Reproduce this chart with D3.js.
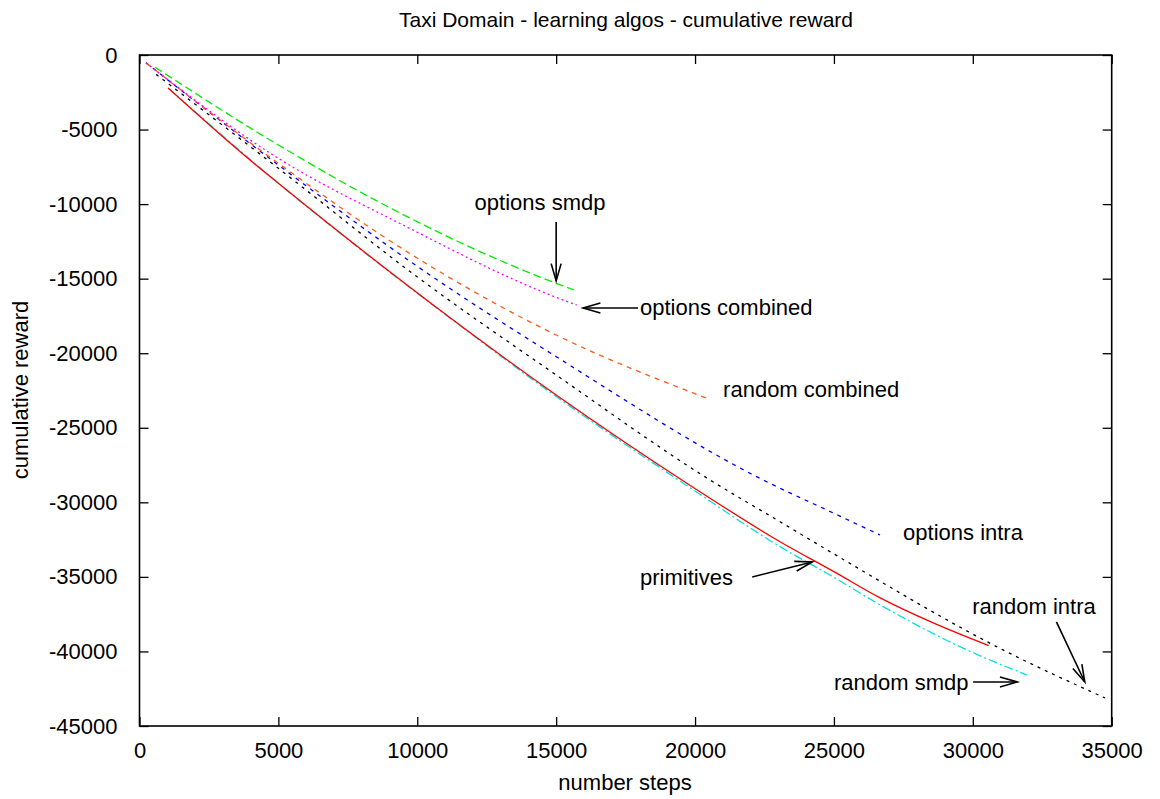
<!DOCTYPE html>
<html>
<head>
<meta charset="utf-8">
<script src="https://cdn.jsdelivr.net/npm/d3@7"></script>
<style>
  html, body { margin: 0; padding: 0; background: #fff; }
  svg { display: block; font-family: "Liberation Sans", Arial, Helvetica, sans-serif; }
</style>
</head>
<body>
<svg id="chart" width="1160" height="799"></svg>
<script>
// ---------- data ----------
const title = "Taxi Domain - learning algos - cumulative reward";
const xLabel = "number steps";
const yLabel = "cumulative reward";
const xTicks = [0, 5000, 10000, 15000, 20000, 25000, 30000, 35000];
const yTicks = [0, -5000, -10000, -15000, -20000, -25000, -30000, -35000, -40000, -45000];

const optionsSmdpX = [560, 5000, 9380, 14420, 15000, 15650];
const optionsSmdpY = [-820, -6035, -10600, -14890, -15310, -15760];

const optionsCombinedX = [230, 5000, 9380, 15000, 15740];
const optionsCombinedY = [-520, -6930, -11300, -16250, -16765];

const randomCombinedX = [250, 5000, 9980, 15000, 20425];
const randomCombinedY = [-550, -7265, -13600, -18777, -23020];

const optionsIntraX = [230, 5000, 9980, 15000, 22450, 25000, 26660];
const optionsIntraY = [-520, -7377, -14150, -20230, -28500, -30735, -32190];

const randomIntraX = [600, 5000, 9980, 15000, 20540, 23060, 25000, 31090, 34760];
const randomIntraY = [-1300, -7600, -14860, -21460, -28500, -31300, -33460, -39900, -43120];

const primitivesX = [1030, 3978, 5000, 11290, 15000, 19525, 23060, 25000, 26665, 28575, 30570];
const primitivesY = [-2210, -7040, -8600, -17770, -22800, -28500, -32640, -34650, -36410, -38090, -39610];

const randomSmdpX = [1030, 5000, 11290, 15000, 19525, 23060, 25000, 26665, 29790, 31950];
const randomSmdpY = [-2210, -8600, -17800, -22900, -28650, -32970, -35030, -36880, -39900, -41580];

// annotation labels (data coordinates) and arrows [x1, y1, x2, y2]
const labelTexts = ["options smdp", "options combined", "random combined", "options intra", "primitives", "random intra", "random smdp"];
const labelX = [14420, 18020, 21010, 27490, 18020, 29980, 25000];
const labelY = [-10394, -17436, -22934, -32524, -35540, -37486, -42583];
const labelAnchor = ["middle", "start", "start", "start", "start", "start", "start"];
const arrows = [
  [15000, -11200, 15000, -15150],
  [17950, -16966, 15970, -16966],
  [22060, -35005, 24220, -34000],
  [33010, -38022, 34030, -42047],
  [30010, -42047, 31600, -42047]
];

// ---------- layout ----------
const svg = d3.select("#chart");
const pL = 139.5, pR = 1111.7, pT = 55, pB = 726;
const x = d3.scaleLinear().domain([0, 35000]).range([pL, pR]);
const y = d3.scaleLinear().domain([-45000, 0]).range([pB, pT]);
const fontSize = 22;

// title
svg.append("text").attr("x", 626).attr("y", 27).attr("text-anchor", "middle")
  .attr("font-size", 21).text(title);

// axes (ticks inward on all sides)
const tickLen = 9;
const axG = svg.append("g");
const xAxisB = d3.axisBottom(x).tickValues(xTicks).tickSize(-tickLen).tickPadding(16).tickFormat(d3.format("d"));
const xAxisT = d3.axisTop(x).tickValues(xTicks).tickSize(-tickLen).tickFormat("");
const yAxisL = d3.axisLeft(y).tickValues(yTicks).tickSize(-tickLen).tickPadding(22).tickFormat(d => d === 0 ? "0" : "-" + Math.abs(d));
const yAxisR = d3.axisRight(y).tickValues(yTicks).tickSize(-tickLen).tickFormat("");

function styleAxis(g) {
  g.select(".domain").remove();
  g.selectAll(".tick line").attr("stroke", "#000").attr("stroke-width", 1.3);
  g.selectAll(".tick text").attr("font-size", fontSize).attr("fill", "#000")
    .attr("font-family", '"Liberation Sans", Arial, sans-serif');
}
axG.append("g").attr("transform", `translate(0,${pB})`).call(xAxisB).call(styleAxis);
axG.append("g").attr("transform", `translate(0,${pT})`).call(xAxisT).call(styleAxis);
axG.append("g").attr("transform", `translate(${pL},0)`).call(yAxisL).call(styleAxis);
axG.append("g").attr("transform", `translate(${pR},0)`).call(yAxisR).call(styleAxis);

// frame
svg.append("rect").attr("x", pL).attr("y", pT).attr("width", pR - pL).attr("height", pB - pT)
  .attr("fill", "none").attr("stroke", "#000").attr("stroke-width", 1.6);

// axis labels
svg.append("text").attr("x", 625).attr("y", 790).attr("text-anchor", "middle")
  .attr("font-size", fontSize).text(xLabel);
svg.append("text").attr("transform", "translate(28,390) rotate(-90)").attr("text-anchor", "middle")
  .attr("font-size", fontSize).text(yLabel);

// series
const series = [
  { xs: randomIntraX, ys: randomIntraY, color: "#000000", dash: "3,5" },
  { xs: optionsIntraX, ys: optionsIntraY, color: "#0000ff", dash: "4,5" },
  { xs: randomCombinedX, ys: randomCombinedY, color: "#ff5a1e", dash: "5,5" },
  { xs: optionsCombinedX, ys: optionsCombinedY, color: "#ff00ff", dash: "2,3" },
  { xs: optionsSmdpX, ys: optionsSmdpY, color: "#00ee00", dash: "8,4" },
  { xs: randomSmdpX, ys: randomSmdpY, color: "#00e0e0", dash: "9,3,2,3" },
  { xs: primitivesX, ys: primitivesY, color: "#ff0000", dash: null }
];
const line = d3.line().x(d => x(d[0])).y(d => y(d[1])).curve(d3.curveMonotoneX);
svg.append("clipPath").attr("id", "plotclip").append("rect")
  .attr("x", pL).attr("y", pT).attr("width", pR - pL).attr("height", pB - pT);
const sg = svg.append("g").attr("clip-path", "url(#plotclip)");
series.forEach(s => {
  const pts = s.xs.map((v, i) => [v, s.ys[i]]);
  sg.append("path").datum(pts).attr("d", line).attr("fill", "none")
    .attr("stroke", s.color).attr("stroke-width", 1.3)
    .attr("stroke-dasharray", s.dash);
});

// labels
labelTexts.forEach((t, i) => {
  svg.append("text").attr("x", x(labelX[i])).attr("y", y(labelY[i]))
    .attr("text-anchor", labelAnchor[i]).attr("font-size", fontSize).attr("fill", "#000").text(t);
});

// arrows with open V heads
const ag = svg.append("g").attr("stroke", "#000").attr("stroke-width", 1.6).attr("fill", "none");
arrows.forEach(a => {
  const x1 = x(a[0]), y1 = y(a[1]), x2 = x(a[2]), y2 = y(a[3]);
  ag.append("line").attr("x1", x1).attr("y1", y1).attr("x2", x2).attr("y2", y2);
  const ang = Math.atan2(y2 - y1, x2 - x1);
  const hl = 18, ha = 0.28;
  const p1 = [x2 - hl * Math.cos(ang - ha), y2 - hl * Math.sin(ang - ha)];
  const p2 = [x2 - hl * Math.cos(ang + ha), y2 - hl * Math.sin(ang + ha)];
  ag.append("path").attr("d", `M${p1[0]},${p1[1]}L${x2},${y2}L${p2[0]},${p2[1]}`);
});
</script>
</body>
</html>
